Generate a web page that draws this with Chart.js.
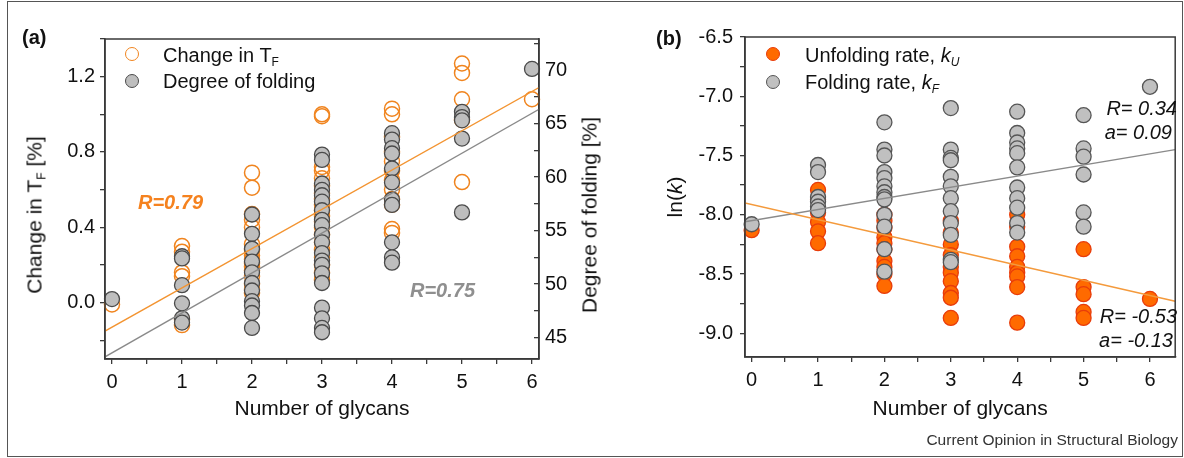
<!DOCTYPE html>
<html><head><meta charset="utf-8">
<script src="https://cdn.jsdelivr.net/npm/chart.js@4.4.0/dist/chart.umd.min.js"></script>
<style>
html,body{margin:0;padding:0;background:#fff;}
#wrap{position:relative;width:1184px;height:458px;overflow:hidden;font-family:'Liberation Sans',Arial,sans-serif;color:#111;}
canvas{position:absolute;top:0;}
#ca{left:0;} #cb{left:640px;}
.frame{position:absolute;left:7px;top:1px;width:1176px;height:456px;border:1px solid #555;box-sizing:border-box;}
.t{position:absolute;white-space:nowrap;line-height:1;}
.rot{transform:translate(-50%,-50%) rotate(-90deg);}
.mk{position:absolute;width:14px;height:14px;border-radius:50%;box-sizing:border-box;transform:translate(-50%,-50%);}
sub{font-size:12px;vertical-align:-4px;line-height:0;}
</style></head>
<body>
<div id="wrap">
<div class="frame"></div>
<canvas id="ca" width="640" height="458"></canvas>
<canvas id="cb" width="544" height="458"></canvas>

<div class="t" style="left:22px;top:27px;font-size:20px;font-weight:bold;">(a)</div>
<div class="t" style="left:656px;top:28px;font-size:20px;font-weight:bold;">(b)</div>

<div class="mk" style="left:132px;top:54px;border:1.5px solid #F0841E;background:transparent;"></div>
<div class="t" style="left:163px;top:45px;font-size:20px;">Change in T<sub>F</sub></div>
<div class="mk" style="left:132px;top:81px;border:1.3px solid #4a4a4a;background:#BEBEBE;"></div>
<div class="t" style="left:163px;top:71px;font-size:20px;">Degree of folding</div>

<div class="t" style="left:138px;top:192px;font-size:20px;font-weight:bold;font-style:italic;color:#F5821F;">R=0.79</div>
<div class="t" style="left:410px;top:280px;font-size:20px;font-weight:bold;font-style:italic;color:#8f8f8f;">R=0.75</div>

<div class="t rot" style="left:34px;top:215px;font-size:21px;">Change in T<sub>F</sub> [%]</div>
<div class="t rot" style="left:589px;top:215px;font-size:21px;">Degree of folding [%]</div>
<div class="t rot" style="left:674px;top:197px;font-size:21px;">ln(<i>k</i>)</div>

<div class="mk" style="left:773px;top:54px;border:1.3px solid #E83C0A;background:#FF6A00;"></div>
<div class="t" style="left:805px;top:45px;font-size:20px;">Unfolding rate, <i>k</i><sub><i>U</i></sub></div>
<div class="mk" style="left:773px;top:82px;border:1.3px solid #555;background:#C0C0C0;"></div>
<div class="t" style="left:805px;top:72px;font-size:20px;">Folding rate, <i>k</i><sub><i>F</i></sub></div>

<div class="t" style="right:7px;top:98px;font-size:20px;font-style:italic;">R= 0.34</div>
<div class="t" style="right:12px;top:122px;font-size:20px;font-style:italic;">a= 0.09</div>
<div class="t" style="right:7px;top:306px;font-size:20px;font-style:italic;">R= -0.53</div>
<div class="t" style="right:11px;top:330px;font-size:20px;font-style:italic;">a= -0.13</div>

<div class="t" style="right:6px;top:432px;font-size:15.5px;color:#333;">Current Opinion in Structural Biology</div>
</div>
<script>
// ---------- data ----------
const glycans = [0, 1, 2, 3, 4, 5, 6];
const glycanTickLabels = ['0', '1', '2', '3', '4', '5', '6'];
const tfTickLabels = ['0.0', '0.4', '0.8', '1.2'];
const degreeTickLabels = ['45', '50', '55', '60', '65', '70'];
const lnkTickLabels = ['-6.5', '-7.0', '-7.5', '-8.0', '-8.5', '-9.0'];

// (a) Change in T_F [%] (left axis), grouped by number of glycans
const changeTF = [
  [-0.01],
  [0.30, 0.27, 0.16, 0.14, -0.09, -0.12],
  [0.69, 0.61, 0.47, 0.44, 0.40, 0.31, 0.28, 0.25, 0.23, 0.21, 0.19, 0.17, 0.14, 0.10, 0.07, 0.05],
  [1.00, 0.99, 0.72, 0.70, 0.66, 0.62, 0.58, 0.55, 0.52, 0.49, 0.46, 0.43, 0.40, 0.36, 0.32, 0.28, 0.24, 0.20, 0.16, 0.12],
  [1.03, 1.00, 0.88, 0.80, 0.75, 0.70, 0.65, 0.60, 0.55, 0.52, 0.39, 0.37],
  [1.27, 1.22, 1.08, 0.97, 0.64],
  [1.08]
];
// (a) Degree of folding [%] (right axis)
const foldingDegree = [
  [48.6],
  [52.6, 52.4, 49.9, 48.2, 46.8, 46.4],
  [56.5, 54.7, 53.3, 52.1, 51.1, 50.1, 49.4, 48.4, 48.0, 47.3, 45.9],
  [62.1, 61.6, 59.4, 58.8, 58.3, 57.7, 56.9, 56.0, 55.5, 54.6, 53.9, 52.9, 52.2, 51.8, 51.0, 50.1, 47.8, 46.8, 45.9, 45.5],
  [64.1, 63.5, 62.7, 62.2, 60.8, 59.5, 57.9, 57.4, 53.9, 52.5, 52.0],
  [66.1, 65.6, 65.3, 63.6, 56.7],
  [70.1]
];
// (b) ln(k)
const unfoldingRate = [
  [-8.13],
  [-7.79, -7.87, -7.98, -8.06, -8.14, -8.24],
  [-8.00, -8.05, -8.11, -8.19, -8.24, -8.29, -8.39, -8.44, -8.50, -8.60],
  [-8.05, -8.15, -8.25, -8.34, -8.44, -8.49, -8.56, -8.66, -8.70, -8.87],
  [-8.00, -8.10, -8.27, -8.35, -8.44, -8.49, -8.52, -8.61, -8.91],
  [-8.29, -8.61, -8.67, -8.82, -8.87],
  [-8.71]
];
const foldingRate = [
  [-8.08],
  [-7.58, -7.64, -7.85, -7.89, -7.93, -7.96],
  [-7.22, -7.45, -7.50, -7.64, -7.69, -7.76, -7.81, -7.85, -7.87, -8.00, -8.10, -8.29, -8.48],
  [-7.10, -7.45, -7.52, -7.54, -7.68, -7.76, -7.86, -7.97, -8.07, -8.17, -8.38, -8.40],
  [-7.13, -7.31, -7.39, -7.44, -7.48, -7.60, -7.77, -7.86, -7.94, -8.07, -8.15],
  [-7.16, -7.44, -7.51, -7.66, -7.98, -8.10],
  [-6.92]
];
// linear fits: [intercept, slope]
const fitChangeTF = [-0.131, 0.2087];
const fitFoldingDegree = [43.58, 3.73];
const fitUnfolding = [-7.913, -0.128];
const fitFolding = [-8.05, 0.094];
const xRangeA = [-0.1, 6.1];
const xRangeB = [-0.1, 6.38];

// ---------- helpers ----------
function pts(groups) {
  const out = [];
  groups.forEach((vals, i) => vals.forEach(v => out.push({x: glycans[i], y: v})));
  return out;
}
function fitLine(coef, range) {
  return range.map(x => ({x: x, y: coef[0] + coef[1] * x}));
}
Chart.defaults.font.family = "'Liberation Sans', Arial, sans-serif";
Chart.defaults.font.size = 20;
Chart.defaults.color = '#111';
const axisColor = '#3a3a3a';
const fixW = w => s => { s.width = w; };
const fixH = h => s => { s.height = h; };
function labelFrom(list, fmt) {
  return v => { const s = fmt(v); return list.includes(s) ? s : ''; };
}
function xScale(range, h) {
  return {
    type: 'linear', position: 'bottom', min: range[0], max: range[1],
    afterFit: fixH(h),
    ticks: {stepSize: 0.5, includeBounds: false, autoSkip: false, maxRotation: 0, padding: 6,
      callback: labelFrom(glycanTickLabels, v => String(v))},
    grid: {drawOnChartArea: false, drawTicks: true, tickLength: 5, color: axisColor, lineWidth: 1.3},
    border: {display: true, color: axisColor, width: 1.5},
    title: {display: true, text: 'Number of glycans', font: {size: 21}, padding: {top: 0, bottom: 36}, color: '#111'}
  };
}
const boxPlugin = {
  id: 'box',
  afterDraw(chart) {
    const {ctx, chartArea: a} = chart;
    ctx.save();
    ctx.strokeStyle = axisColor; ctx.lineWidth = 1.5;
    ctx.strokeRect(a.left, a.top, a.right - a.left, a.bottom - a.top);
    ctx.restore();
  }
};
const common = {
  responsive: false, maintainAspectRatio: false, animation: false, events: [],
  plugins: {legend: {display: false}, tooltip: {enabled: false}}
};

// ---------- panel (a) ----------
new Chart(document.getElementById('ca'), {
  type: 'scatter',
  data: {datasets: [
    {data: fitLine(fitChangeTF, xRangeA), yAxisID: 'y', showLine: true, pointRadius: 0, borderColor: '#F39431', borderWidth: 1.4},
    {data: fitLine(fitFoldingDegree, xRangeA), yAxisID: 'y2', showLine: true, pointRadius: 0, borderColor: '#8a8a8a', borderWidth: 1.4},
    {label: 'Degree of folding', data: pts(foldingDegree), yAxisID: 'y2', clip: false,
      pointRadius: 7.5, pointBackgroundColor: '#BEBEBE', pointBorderColor: '#4a4a4a', pointBorderWidth: 1.3},
    {label: 'Change in TF', data: pts(changeTF), yAxisID: 'y', clip: false,
      pointRadius: 7.5, pointBackgroundColor: 'rgba(255,255,255,0)', pointBorderColor: '#F0841E', pointBorderWidth: 1.5}
  ]},
  options: Object.assign({}, common, {
    layout: {padding: {top: 39, left: 0, right: 0, bottom: 0}},
    scales: {
      x: xScale(xRangeA, 99),
      y: {type: 'linear', position: 'left', min: -0.3, max: 1.4, afterFit: fixW(105),
        ticks: {stepSize: 0.2, includeBounds: false, autoSkip: false, padding: 5,
          callback: labelFrom(tfTickLabels, v => v.toFixed(1))},
        grid: {drawOnChartArea: false, drawTicks: true, tickLength: 5, color: axisColor, lineWidth: 1.3},
        border: {display: true, color: axisColor, width: 1.5}},
      y2: {type: 'linear', position: 'right', min: 43, max: 72.9, afterFit: fixW(101),
        ticks: {stepSize: 2.5, includeBounds: false, autoSkip: false, padding: 11,
          callback: labelFrom(degreeTickLabels, v => String(v))},
        grid: {drawOnChartArea: false, drawTicks: true, tickLength: -5, color: axisColor, lineWidth: 1.3},
        border: {display: true, color: axisColor, width: 1.5}}
    }
  }),
  plugins: [boxPlugin]
});

// ---------- panel (b) ----------
new Chart(document.getElementById('cb'), {
  type: 'scatter',
  data: {datasets: [
    {data: fitLine(fitUnfolding, xRangeB), showLine: true, pointRadius: 0, borderColor: '#F49A3C', borderWidth: 1.4},
    {data: fitLine(fitFolding, xRangeB), showLine: true, pointRadius: 0, borderColor: '#8a8a8a', borderWidth: 1.4},
    {label: 'Folding rate', data: pts(foldingRate), clip: false,
      pointRadius: 7.5, pointBackgroundColor: '#C0C0C0', pointBorderColor: '#555', pointBorderWidth: 1.3},
    {label: 'Unfolding rate', data: pts(unfoldingRate), clip: false,
      pointRadius: 7.5, pointBackgroundColor: '#FF6A00', pointBorderColor: '#E83C0A', pointBorderWidth: 1.3}
  ]},
  options: Object.assign({}, common, {
    layout: {padding: {top: 37, left: 0, right: 4, bottom: 0}},
    scales: {
      x: xScale(xRangeB, 101),
      y: {type: 'linear', position: 'left', min: -9.2, max: -6.5, afterFit: fixW(105),
        ticks: {stepSize: 0.25, includeBounds: false, autoSkip: false, padding: 7,
          callback: labelFrom(lnkTickLabels, v => v.toFixed(1))},
        grid: {drawOnChartArea: false, drawTicks: true, tickLength: 5, color: axisColor, lineWidth: 1.3},
        border: {display: true, color: axisColor, width: 1.5}}
    }
  }),
  plugins: [boxPlugin]
});
</script>
</body></html>
